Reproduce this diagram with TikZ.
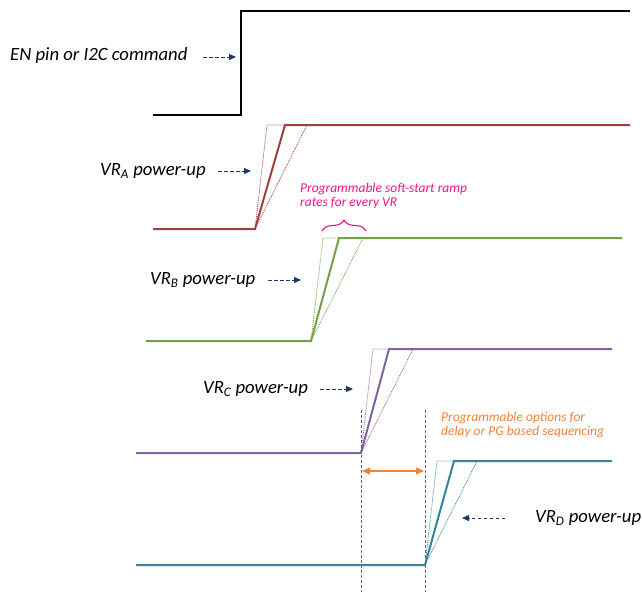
\documentclass[tikz,border=0pt]{standalone}
\usepackage{fontspec}
\setmainfont{Carlito}
\usetikzlibrary{arrows.meta,decorations.pathreplacing}
\definecolor{cEN}{RGB}{0,0,0}
\definecolor{cA}{RGB}{160,64,60}
\definecolor{cB}{RGB}{119,159,71}
\definecolor{cC}{RGB}{128,100,162}
\definecolor{cD}{RGB}{49,133,156}
\definecolor{navy}{RGB}{31,56,100}
\definecolor{mag}{RGB}{236,20,140}
\definecolor{org}{RGB}{240,130,60}
\definecolor{vblue}{RGB}{46,117,182}
\begin{document}
\begin{tikzpicture}[x=1pt,y=-1pt,
  sig/.style={line width=2pt,line join=miter},
  ghost/.style={line width=0.8pt,dash pattern=on 1pt off 1pt},
  lbl/.style={font=\itshape\fontsize{18.7}{22}\selectfont,inner sep=0pt,anchor=west},
  note/.style={font=\itshape\fontsize{13.5}{13.5}\selectfont,inner sep=0pt,anchor=north west,align=left},
  ptr/.style={navy,line width=1pt,dash pattern=on 3.5pt off 2.5pt,-{Triangle[length=7pt,width=6pt]}},
  guide/.style={vblue,line width=0.9pt,dash pattern=on 3pt off 2pt}]
\useasboundingbox (0,0) rectangle (642,592);
% EN
\draw[sig,cEN] (153,115) -- (241,115) -- (241,11) -- (630,11);
\node[lbl] (en) at (10,56) {EN pin or I2C command};
\coordinate (en1) at (203,57); \coordinate (en2) at (236,57);
\draw[ptr] (en1) -- (en2);
% A
\draw[ghost,cA] (255,229) -- (267,125) -- (285,125);
\draw[ghost,cA] (255,229) -- (307,125);
\draw[sig,cA] (153,229) -- (255,229) -- (285,125) -- (630,125);
\node[lbl] (va) at (100,171) {VR\textsubscript{A} power-up};
\coordinate (a1) at (218,171); \coordinate (a2) at (251,171);
\draw[ptr] (a1) -- (a2);
% B
\draw[ghost,cB] (311,341) -- (323,238) -- (339,238);
\draw[ghost,cB] (311,341) -- (363,238);
\draw[sig,cB] (146,341) -- (311,341) -- (339,238) -- (622,238);
\node[lbl] (vb) at (150,280) {VR\textsubscript{B} power-up};
\coordinate (b1) at (268,280); \coordinate (b2) at (301,280);
\draw[ptr] (b1) -- (b2);
% brace + note
\coordinate (br1) at (322,231); \coordinate (br2) at (366,231);
\draw[mag,line width=1.1pt,decorate,decoration={brace,amplitude=11pt}] (br1) -- (br2);
\node[note,text=mag] (ramp) at (300,183) {Programmable soft-start ramp\\rates for every VR};
% C
\draw[ghost,cC] (361,453) -- (373,349) -- (389,349);
\draw[ghost,cC] (361,453) -- (413,349);
\draw[sig,cC] (136,453) -- (361,453) -- (389,349) -- (612,349);
\node[lbl] (vc) at (203,389) {VR\textsubscript{C} power-up};
\coordinate (c1) at (320,389); \coordinate (c2) at (353,389);
\draw[ptr] (c1) -- (c2);
% guides
\coordinate (g1t) at (361,410); \coordinate (g1b) at (361,592);
\coordinate (g2t) at (425,410); \coordinate (g2b) at (425,592);
\draw[guide] (g1t) -- (g1b);
\draw[guide] (g2t) -- (g2b);
\coordinate (o1) at (362,471); \coordinate (o2) at (424,471);
\draw[org,line width=1.4pt,{Triangle[length=8pt,width=7pt]}-{Triangle[length=8pt,width=7pt]}] (o1) -- (o2);
\node[note,text=org] (seq) at (441,412) {Programmable options for\\delay or PG based sequencing};
% D
\draw[ghost,cD] (425,565) -- (437,461) -- (454,461);
\draw[ghost,cD] (425,565) -- (477,461);
\draw[sig,cD] (136,565) -- (425,565) -- (454,461) -- (612,461);
\node[lbl] (vd) at (535,518) {VR\textsubscript{D} power-up};
\coordinate (d1) at (505,518); \coordinate (d2) at (462,518);
\draw[ptr] (d1) -- (d2);
\end{tikzpicture}
\end{document}
